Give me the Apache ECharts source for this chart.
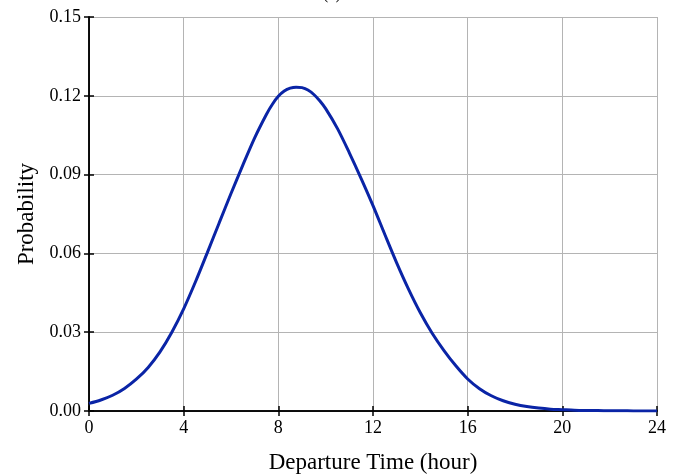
<!DOCTYPE html>
<html>
<head>
<meta charset="utf-8">
<script src="https://cdn.jsdelivr.net/npm/echarts@6/dist/echarts.min.js"></script>
<style>html,body{margin:0;padding:0;background:#fff;}#c{width:680px;height:476px;}</style>
</head>
<body>
<div id="c"></div>
<script>
var hours = [0,0.5,1,1.5,2,2.5,3,3.5,4,4.5,5,5.5,6,6.5,7,7.5,7.75,8,8.25,8.5,8.75,9,9.25,9.5,9.75,10,10.5,11,11.5,12,12.5,13,13.5,14,14.5,15,15.5,16,16.5,17,17.5,18,18.5,19,19.5,20,20.5,21,21.5,22,22.5,23,23.5,24];
var probability = [0.0029,0.0042,0.0060,0.0086,0.0121,0.0166,0.0225,0.0300,0.0389,0.0492,0.0603,0.0716,0.0828,0.0936,0.1040,0.1130,0.1168,0.1198,0.1218,0.1229,0.1233,0.1231,0.1222,0.1205,0.1181,0.1151,0.1075,0.0983,0.0885,0.0782,0.0672,0.0564,0.0464,0.0374,0.0296,0.0230,0.0172,0.0122,0.0085,0.0058,0.0039,0.0026,0.0017,0.0011,0.0007,0.0005,0.0003,0.0002,0.00015,0.0001,0.00007,0.00004,0.00003,0.00002];
var xTicks = [0,4,8,12,16,20,24];
var yTicks = [0,0.03,0.06,0.09,0.12,0.15];

var data = hours.map(function(h,i){return [h, probability[i]];});
var font = 'Liberation Serif';
var chart = echarts.init(document.getElementById('c'), null, {renderer:'canvas'});
var tickStyle = {show:true, inside:true, length:5, lineStyle:{color:'#000', width:1.5}};
chart.setOption({
  animation:false,
  title:{text:'(a)', left:318, top:-18, textStyle:{fontFamily:font, fontSize:16, fontWeight:'normal', color:'#000'}},
  grid:{left:89, right:23, top:17, bottom:65, containLabel:false, outerBoundsMode:'none'},
  xAxis:[{
    type:'value', min:xTicks[0], max:xTicks[xTicks.length-1], interval:4,
    name:'Departure Time (hour)', nameLocation:'middle', nameGap:40,
    nameTextStyle:{fontFamily:font, fontSize:23, color:'#000'},
    axisLine:{show:true, lineStyle:{color:'#000', width:1.5}},
    axisTick:tickStyle,
    axisLabel:{fontFamily:font, fontSize:18, color:'#000', margin:8},
    splitLine:{show:true, lineStyle:{color:'#b4b4b4', width:1}}
  },{
    type:'value', position:'top', min:0, max:24, interval:4,
    axisLine:{show:true, lineStyle:{color:'#000', width:1.5}},
    axisTick:tickStyle, axisLabel:{show:false}, splitLine:{show:false}
  }],
  yAxis:[{
    type:'value', min:yTicks[0], max:yTicks[yTicks.length-1], interval:0.03,
    name:'Probability', nameLocation:'middle', nameGap:50,
    nameTextStyle:{fontFamily:font, fontSize:23, color:'#000'},
    axisLine:{show:true, lineStyle:{color:'#000', width:1.5}},
    axisTick:tickStyle,
    axisLabel:{fontFamily:font, fontSize:18, color:'#000', margin:8, formatter:function(v){return v.toFixed(2);}},
    splitLine:{show:true, lineStyle:{color:'#b4b4b4', width:1}}
  },{
    type:'value', position:'right', min:0, max:0.15, interval:0.03,
    axisLine:{show:true, lineStyle:{color:'#000', width:1.5}},
    axisTick:tickStyle, axisLabel:{show:false}, splitLine:{show:false}
  }],
  series:[{
    type:'line', data:data, smooth:0.3, showSymbol:false,
    lineStyle:{color:'#0a24a6', width:3}
  }]
});
</script>
</body>
</html>
